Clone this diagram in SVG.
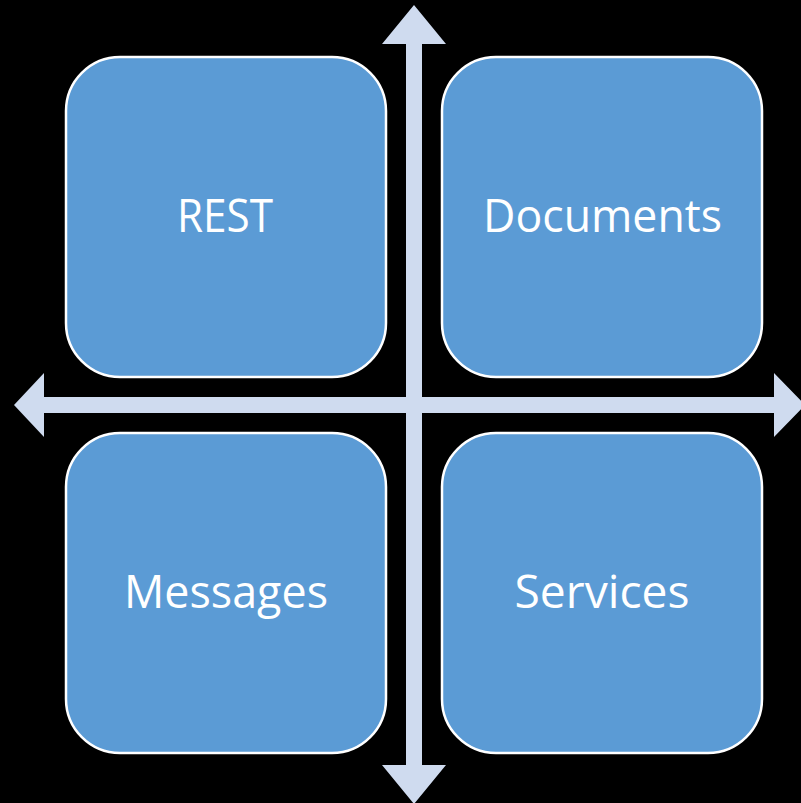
<svg xmlns="http://www.w3.org/2000/svg" width="801" height="803" viewBox="0 0 801 803">
<style>
.box{fill:#5B9BD5;stroke:#FFFFFF;stroke-width:2.5}
.lbl{fill:#FFFFFF;font-family:"Open Sans","Liberation Sans",sans-serif;font-size:45px;text-anchor:middle}
.arr{fill:#CFDBEF}
</style>
<rect width="801" height="803" fill="#000000"/>
<g id="connectors">
<polygon class="arr" points="414,5 446,44 422,44 422,765 446,765 414,804 382,765 406,765 406,44 382,44"/>
<polygon class="arr" points="14,405 44,373 44,397 774,397 774,373 805,405 774,437 774,413 44,413 44,437"/>
</g>
<g id="rest">
<rect class="box" x="66" y="57" width="320" height="320" rx="54"/>
<text class="lbl" x="225" y="232" textLength="96" lengthAdjust="spacingAndGlyphs">REST</text>
</g>
<g id="documents">
<rect class="box" x="442" y="57" width="320" height="320" rx="54"/>
<text class="lbl" x="602.5" y="232" textLength="239" lengthAdjust="spacingAndGlyphs">Documents</text>
</g>
<g id="messages">
<rect class="box" x="66" y="433" width="320" height="320" rx="54"/>
<text class="lbl" x="226" y="608" textLength="204" lengthAdjust="spacingAndGlyphs">Messages</text>
</g>
<g id="services">
<rect class="box" x="442" y="433" width="320" height="320" rx="54"/>
<text class="lbl" x="602" y="608" textLength="175" lengthAdjust="spacingAndGlyphs">Services</text>
</g>
</svg>
